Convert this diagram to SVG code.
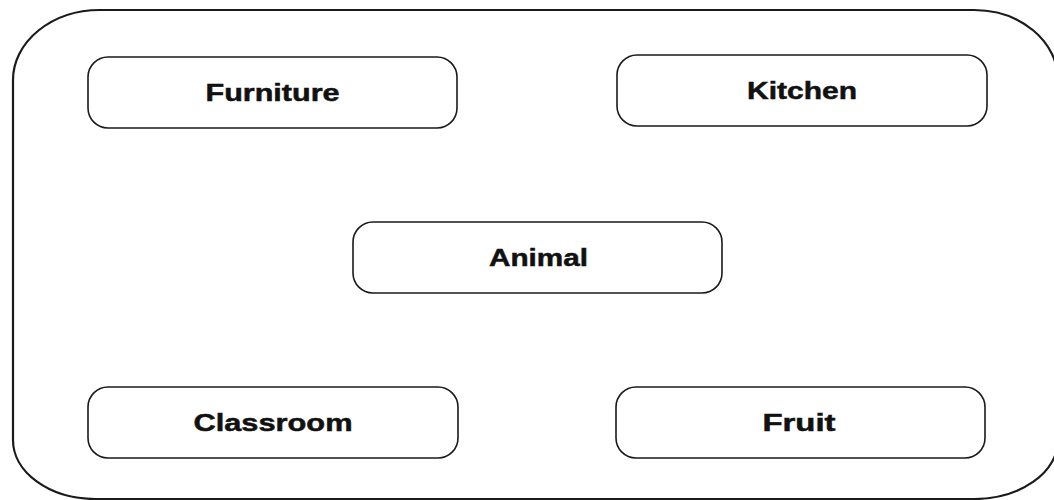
<svg xmlns="http://www.w3.org/2000/svg" width="1054" height="500" viewBox="0 0 1054 500">
<style>
.box{fill:#fff;stroke:#1a1a1a;stroke-width:1.6}
.outer{fill:#fff;stroke:#1a1a1a;stroke-width:2.2}
.lbl{font-family:"Liberation Sans",Arial,sans-serif;font-weight:bold;font-size:24px;fill:#111;stroke:#111;stroke-width:0.5;text-anchor:middle;dominant-baseline:central}
</style>
<rect width="1054" height="500" fill="#fff"/>
<g id="container">
<path class="outer" d="M100,10 L974,10 A84,70 0 0 1 1058,80 L1058,440 A84,59 0 0 1 974,499 L95,499 A82,59 0 0 1 13,440 L13,80 A87,70 0 0 1 100,10 Z"/>
</g>
<g id="connectors"></g>
<g id="furniture">
<rect class="box" x="88" y="57" width="369" height="71" rx="20" ry="20"/>
<text class="lbl" x="272.5" y="92" textLength="134" lengthAdjust="spacingAndGlyphs">Furniture</text>
</g>
<g id="kitchen">
<rect class="box" x="617" y="55" width="370" height="71" rx="20" ry="20"/>
<text class="lbl" x="802" y="90" textLength="110" lengthAdjust="spacingAndGlyphs">Kitchen</text>
</g>
<g id="animal">
<rect class="box" x="353" y="222" width="369" height="71" rx="20" ry="20"/>
<text class="lbl" x="538.5" y="257.5" textLength="99" lengthAdjust="spacingAndGlyphs">Animal</text>
</g>
<g id="classroom">
<rect class="box" x="88" y="387" width="370" height="71" rx="20" ry="20"/>
<text class="lbl" x="273" y="422.5" textLength="159" lengthAdjust="spacingAndGlyphs">Classroom</text>
</g>
<g id="fruit">
<rect class="box" x="616" y="387" width="369" height="71" rx="20" ry="20"/>
<text class="lbl" x="799" y="422.5" textLength="73" lengthAdjust="spacingAndGlyphs">Fruit</text>
</g>
</svg>
